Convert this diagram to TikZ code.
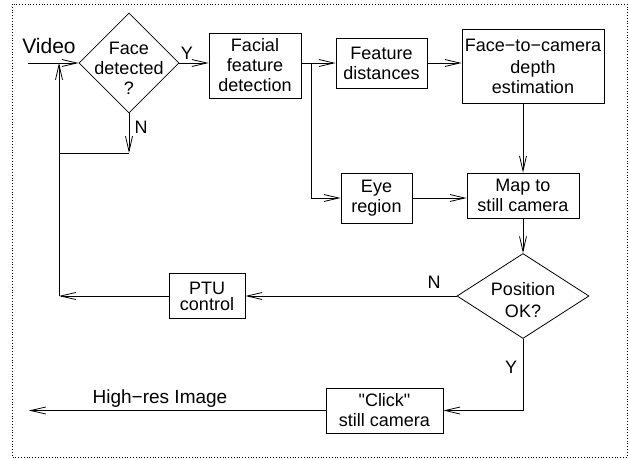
\documentclass[tikz,border=0pt]{standalone}
\usepackage{fontspec}
\setmainfont{Liberation Sans}
\usetikzlibrary{shapes.geometric,arrows.meta}

\begin{document}
\begin{tikzpicture}[x=1pt, y=-1pt, line width=0.8pt,
  every node/.style={font=\fontsize{18}{20}\selectfont, inner sep=0pt},
  block/.style={draw, align=center},
  decision/.style={draw, shape=diamond},
  flow/.style={-{Straight Barb[length=15pt, width=7pt]}}]
  \useasboundingbox (0, 0) rectangle (629, 459);
  \draw[dotted] (12, 4) rectangle (627, 457);

  \node (face) at (129, 63) [decision, minimum width=100pt, minimum height=100pt] {};
  \node (facetxt) at (129, 68) [align=center] {Face\\detected\\?};
  \node (facial) at (255, 65.5) [block, minimum width=92pt, minimum height=65pt] {Facial\\feature\\detection};
  \node (featdist) at (381.5, 63) [block, minimum width=91pt, minimum height=50pt] {Feature\\distances};
  \node (depth) at (533, 66) [block, minimum width=142pt, minimum height=74pt] {Face−to−camera\\[2pt]depth\\estimation};
  \node (eye) at (376.5, 198) [block, minimum width=71pt, minimum height=50pt] {Eye\\region};
  \node (map) at (523, 195.5) [block, minimum width=112pt, minimum height=45pt] {Map to\\still camera};
  \node (pos) at (523, 296) [decision, minimum width=132pt, minimum height=85pt] {};
  \node (postxt) at (523, 300) [align=center] {Position\\[2pt]OK?};
  \node (ptu) at (207, 296) [block, minimum width=76pt, minimum height=45pt] {PTU\\[-4pt]control};
  \node (click) at (384.5, 410.5) [block, minimum width=117pt, minimum height=45pt] {\textquotedbl Click\textquotedbl\\still camera};

  \node (video) at (49, 53) [anchor=base, font=\fontsize{21}{24}\selectfont] {Video};
  \node (yes1) at (187, 59) [anchor=base] {Y};
  \node (no1) at (141, 133) [anchor=base] {N};
  \node (no2) at (434, 288) [anchor=base] {N};
  \node (yes2) at (511, 373) [anchor=base] {Y};
  \node (hires) at (160, 403) [anchor=base, font=\fontsize{19}{22}\selectfont] {High−res Image};

  \coordinate (vin) at (28, 63);
  \coordinate (split) at (311, 63);
  \coordinate (njoin) at (129, 153);
  \coordinate (fb) at (59, 296);
  \coordinate (out) at (29, 410.5);

  \draw[flow] (vin) -- (face.west);
  \draw[flow] (face.east) -- (facial.west |- face.east);
  \draw[flow] (facial.east |- featdist) -- (featdist.west);
  \draw[flow] (featdist.east) -- (depth.west |- featdist);
  \draw[flow] (split) |- (eye.west);
  \draw[flow] (eye.east) -- (map.west |- eye);
  \draw[flow] (depth.south -| map) -- (map.north);
  \draw[flow] (map.south) -- (pos.north);
  \draw[flow] (pos.west) -- (ptu.east);
  \draw[flow] (ptu.west) -- (fb);
  \draw[flow] (fb) -- (fb |- face.west);
  \draw[flow] (face.south) -- (njoin);
  \draw (njoin) -- (njoin -| fb);
  \draw[flow] (pos.south) |- (click.east);
  \draw[flow] (click.west) -- (out);
\end{tikzpicture}
\end{document}
